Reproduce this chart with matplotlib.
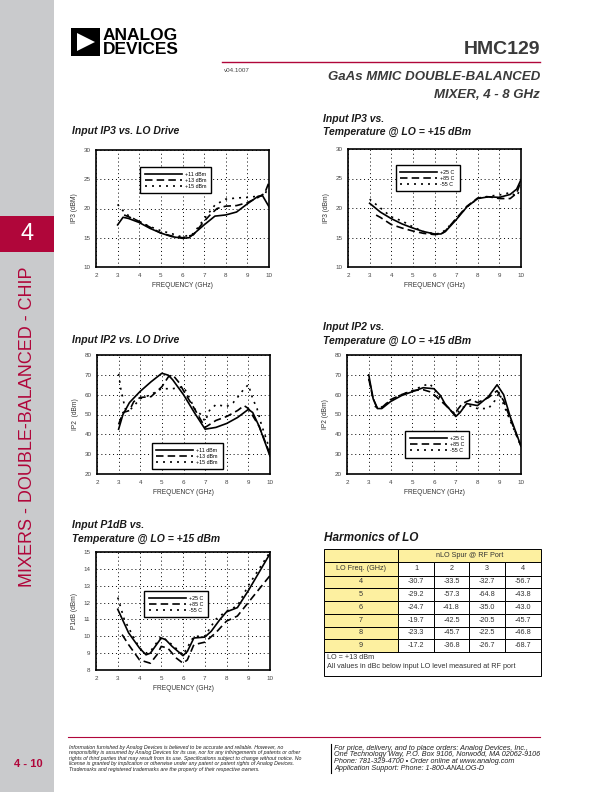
import matplotlib
matplotlib.use("Agg")
import matplotlib.pyplot as plt
from matplotlib.patches import Rectangle, Polygon
from matplotlib.lines import Line2D

plt.rcParams["font.family"] = ["Liberation Sans", "DejaVu Sans"]

W, H = 612, 792
RED = "#B0063A"
GRAY_BAND = "#C9CACC"
YELLOW = "#FDF0A0"

# ---- Input IP3 vs. LO Drive ----
ip3_lo_labels = ["+11 dBm", "+13 dBm", "+15 dBm"]
ip3_lo_x = [
    [3, 3.25, 3.5, 4, 4.5, 5, 5.5, 6, 6.3, 6.5, 7, 7.5, 8, 8.5, 9, 9.5, 9.7, 10],
    [3.3, 3.5, 4, 4.5, 5, 5.5, 6, 6.5, 7, 7.3, 7.6, 8, 8.5, 9, 9.5, 9.8, 10],
    [3, 3.3, 3.5, 4, 4.5, 5, 5.5, 6, 6.5, 7, 7.5, 8, 8.5, 9, 9.5, 9.8, 10],
]
ip3_lo_y = [
    [17.2, 18.5, 18.3, 17.6, 16.6, 15.8, 15.2, 14.9, 15.0, 15.6, 17.2, 18.7, 18.9, 19.4, 20.8, 22.1, 22.2, 20.3],
    [18.9, 18.6, 17.8, 16.8, 15.8, 15.3, 15.0, 15.5, 17.8, 19.0, 20.0, 20.4, 20.5, 21.0, 21.9, 22.6, 24.5],
    [20.7, 19.4, 18.8, 17.7, 16.9, 16.2, 15.7, 15.1, 15.7, 18.2, 20.6, 21.6, 21.8, 21.9, 22.1, 22.3, 24.0],
]

# ---- Input IP3 vs. Temperature ----
temp_labels = ["+25 C", "+85 C", "-55 C"]
ip3_t_x = [
    [3, 3.5, 4, 4.5, 5, 5.5, 6, 6.3, 6.5, 7, 7.5, 8, 8.5, 9, 9.5, 9.8, 10],
    [3.3, 3.5, 4, 4.5, 5, 5.5, 6, 6.3, 6.5, 7, 7.5, 8, 8.5, 9, 9.5, 9.8, 10],
    [3, 3.5, 4, 4.5, 5, 5.5, 6, 6.3, 6.5, 7, 7.5, 8, 8.5, 9, 9.5, 9.8, 10],
]
ip3_t_y = [
    [20.8, 19.3, 18.2, 17.3, 16.6, 16.0, 15.6, 15.6, 16.0, 18.0, 20.2, 21.6, 21.9, 21.8, 22.3, 23.2, 24.8],
    [18.8, 18.4, 17.2, 16.6, 16.1, 15.7, 15.5, 15.6, 16.1, 18.2, 20.3, 21.7, 21.9, 21.6, 21.6, 22.5, 24.6],
    [21.5, 20.0, 18.5, 17.8, 16.8, 16.0, 15.6, 15.7, 16.3, 18.1, 20.2, 21.6, 22.0, 22.2, 22.6, 22.0, 23.5],
]

# ---- Input IP2 vs. LO Drive ----
ip2_lo_x = [
    [3, 3.2, 3.5, 4, 4.5, 5, 5.3, 5.5, 6, 6.5, 7, 7.5, 8, 8.5, 9, 9.2, 9.5, 10],
    [3, 3.2, 3.5, 3.7, 4, 4.5, 5, 5.3, 5.5, 5.8, 6, 6.5, 7, 7.5, 8, 8.5, 8.8, 9, 9.5, 10],
    [3, 3.1, 3.2, 3.3, 3.5, 3.8, 4, 4.5, 4.8, 5, 5.5, 6, 6.3, 6.5, 6.8, 7, 7.2, 7.5, 8, 8.3, 8.6, 8.8, 9, 9.2, 9.4, 9.6, 10],
]
ip2_lo_y = [
    [42.6, 50, 56, 61.7, 66.5, 70.8, 69.8, 67.5, 60, 51, 42.6, 43.5, 45.5, 48.5, 52.6, 51, 44, 29],
    [45, 51, 52, 56.5, 58.6, 59, 64, 69, 70, 66, 62, 53, 43.5, 47, 49, 52, 54.5, 53, 44, 30],
    [70.5, 63, 58, 53, 52, 55.5, 58, 60, 62, 63, 63, 64, 58, 53, 50, 46.5, 52, 55, 54, 56, 60, 63, 65, 58, 53, 45, 32],
]

# ---- Input IP2 vs. Temperature ----
ip2_t_x = [
    [3, 3.2, 3.4, 3.6, 4, 4.5, 5, 5.5, 6, 6.3, 6.5, 7, 7.2, 7.5, 8, 8.5, 8.9, 9.2, 9.5, 10],
    [3, 3.2, 3.4, 3.6, 4, 4.5, 5, 5.5, 5.8, 6, 6.5, 7, 7.05, 7.3, 7.7, 8, 8.5, 8.9, 9.2, 9.5, 10],
    [3, 3.3, 3.5, 4, 4.5, 5, 5.5, 5.8, 6, 6.3, 6.6, 7, 7.3, 7.6, 8, 8.5, 8.8, 9, 9.2, 9.5, 10],
]
ip2_t_y = [
    [70, 58, 53, 53, 56.5, 59.5, 61.5, 63.5, 63, 59.5, 55.5, 49, 51, 55.5, 54.5, 59, 65, 60, 49, 34],
    [68, 58, 53, 53.5, 57.5, 60, 62, 62.5, 61.5, 60, 55, 49.5, 52, 55.5, 57.5, 56, 58.5, 62, 57, 48, 34],
    [68, 54, 53, 57, 60, 62, 64.5, 65.5, 63, 58, 54, 50, 53.5, 54.5, 53, 53, 57, 61, 55, 47, 34],
]

# ---- Input P1dB vs. Temperature ----
p1_t_x = [
    [3, 3.5, 4, 4.3, 4.5, 5, 5.2, 5.5, 6, 6.2, 6.5, 7, 7.3, 7.7, 8, 8.5, 9, 9.5, 10],
    [3.2, 3.5, 4, 4.5, 4.8, 5, 5.3, 5.7, 6, 6.2, 6.5, 7, 7.5, 8, 8.5, 9, 9.5, 10],
    [3, 3.3, 3.5, 4, 4.3, 4.5, 5, 5.5, 6, 6.5, 7, 7.5, 8, 8.5, 9, 9.5, 10],
]
p1_t_y = [
    [11.6, 10.2, 9.3, 8.9, 9.0, 9.9, 9.8, 9.4, 8.85, 9.1, 9.9, 9.95, 10.3, 11.0, 11.45, 11.7, 12.7, 13.8, 14.9],
    [10.1, 9.5, 8.6, 8.4, 8.9, 9.4, 9.3, 8.7, 8.4, 8.6, 9.5, 9.65, 10.2, 10.9, 11.2, 12.0, 12.8, 13.6],
    [12.3, 11.0, 10.5, 9.3, 9.0, 9.1, 10.0, 9.5, 8.9, 10.0, 10.0, 11.0, 11.5, 11.8, 13.0, 14.0, 15.0],
]

# ---- Harmonics of LO table ----
lo_freqs = ["4", "5", "6", "7", "8", "9"]
spur_orders = ["1", "2", "3", "4"]
spur_values = [
    [-30.7, -33.5, -32.7, -56.7],
    [-29.2, -57.3, -64.8, -43.8],
    [-24.7, -41.8, -35.0, -43.0],
    [-19.7, -42.5, -20.5, -45.7],
    [-23.3, -45.7, -22.5, -46.8],
    [-17.2, -36.8, -26.7, -68.7],
]

STYLES = ["-", (0, (4.5, 2.5)), (0, (1.2, 3))]

fig = plt.figure(figsize=(W / 100, H / 100), dpi=100)


def px_text(x, y, s, **kw):
    fig.text(x / W, 1 - y / H, s, **kw)


def px_axes(x0, y0, x1, y1):
    return fig.add_axes([x0 / W, 1 - y1 / H, (x1 - x0) / W, (y1 - y0) / H])


def chart(rect, xs, ys, labels, yticks, ylabel, leg_anchor):
    ax = px_axes(*rect)
    for x, y, lab, ls in zip(xs, ys, labels, STYLES):
        ax.plot(x, y, color="black", lw=1.2, ls=ls, label=lab)
    ax.set_xlim(2, 10)
    ax.set_ylim(yticks[0], yticks[-1])
    ax.set_xticks(range(2, 11))
    ax.set_yticks(yticks)
    ax.grid(True, color="black", ls=(0, (1, 3)), lw=0.7)
    for sp in ax.spines.values():
        sp.set_linewidth(1.2)
    ax.tick_params(length=0, labelsize=4.5, pad=4, colors="#444444")
    ax.set_xlabel("FREQUENCY (GHz)", fontsize=4.8, color="#333333", labelpad=3)
    ax.set_ylabel(ylabel, fontsize=4.8, color="#333333", labelpad=4)
    leg = ax.legend(loc="upper left", bbox_to_anchor=leg_anchor, fontsize=3.8,
                    handlelength=7, handletextpad=0.6, labelspacing=0.15,
                    borderpad=0.9, fancybox=False, framealpha=1, edgecolor="black")
    leg.get_frame().set_linewidth(1.0)
    return ax


chart((96, 150, 269, 267), ip3_lo_x, ip3_lo_y, ip3_lo_labels, [10, 15, 20, 25, 30],
      "IP3 (dBM)", (0.24, 0.875))
chart((348, 149, 521, 267), ip3_t_x, ip3_t_y, temp_labels, [10, 15, 20, 25, 30],
      "IP3 (dBm)", (0.26, 0.885))
chart((97, 355, 270, 474), ip2_lo_x, ip2_lo_y, ip3_lo_labels, [20, 30, 40, 50, 60, 70, 80],
      "IP2  (dBm)", (0.30, 0.28))
chart((347, 355, 521, 474), ip2_t_x, ip2_t_y, temp_labels, [20, 30, 40, 50, 60, 70, 80],
      "IP2 (dBm)", (0.32, 0.38))
chart((96, 552, 270, 670), p1_t_x, p1_t_y, temp_labels, list(range(8, 16)),
      "P1dB (dBm)", (0.26, 0.69))

# chart titles
tkw = dict(fontsize=7.5, fontweight="bold", fontstyle="italic", color="#1a1a1a", va="center")
px_text(72, 131, "Input IP3 vs. LO Drive", **tkw)
px_text(323, 119, "Input IP3 vs.", **tkw)
px_text(323, 132, "Temperature @ LO = +15 dBm", **tkw)
px_text(72, 340, "Input IP2 vs. LO Drive", **tkw)
px_text(323, 327, "Input IP2 vs.", **tkw)
px_text(323, 341, "Temperature @ LO = +15 dBm", **tkw)
px_text(72, 525, "Input P1dB vs.", **tkw)
px_text(72, 539, "Temperature @ LO = +15 dBm", **tkw)
px_text(324, 538, "Harmonics of LO", fontsize=8.5, fontweight="bold",
        fontstyle="italic", color="#1a1a1a", va="center")

# ---- table ----
col_edges = [324, 398, 434, 469, 505, 541]
row_edges = [549, 562, 576, 588, 601, 614, 627, 639, 652, 676]
tab = px_axes(col_edges[0], row_edges[0], col_edges[-1], row_edges[-1])
tab.set_xlim(col_edges[0], col_edges[-1])
tab.set_ylim(row_edges[-1], row_edges[0])
tab.axis("off")
cell_kw = dict(fontsize=5.2, color="#333333", ha="center", va="center")


def cell(c0, c1, r0, r1, color, text=None):
    x0, x1 = col_edges[c0], col_edges[c1]
    y0, y1 = row_edges[r0], row_edges[r1]
    tab.add_patch(Rectangle((x0, y0), x1 - x0, y1 - y0, facecolor=color,
                            edgecolor="black", lw=0.7, clip_on=False))
    if text is not None:
        tab.text((x0 + x1) / 2, (y0 + y1) / 2, text, **cell_kw)


cell(0, 1, 0, 1, YELLOW)
cell(1, 5, 0, 1, YELLOW, "nLO Spur @ RF Port")
cell(0, 1, 1, 2, YELLOW, "LO Freq. (GHz)")
for j, s in enumerate(spur_orders):
    cell(j + 1, j + 2, 1, 2, "white", s)
for i, f in enumerate(lo_freqs):
    cell(0, 1, i + 2, i + 3, YELLOW, f)
    for j, v in enumerate(spur_values[i]):
        cell(j + 1, j + 2, i + 2, i + 3, "white", f"{v:.1f}")
cell(0, 5, 8, 9, "white")
tab.text(col_edges[0] + 3, row_edges[8] + 6, "LO = +13 dBm", fontsize=5.2,
         color="#333333", va="center")
tab.text(col_edges[0] + 3, row_edges[8] + 15,
         "All values in dBc below input LO level measured at RF port",
         fontsize=5.2, color="#333333", va="center")

# ---- page decoration: side band ----
fig.patches.append(Rectangle((0, 0), 54 / W, 1, transform=fig.transFigure,
                             facecolor=GRAY_BAND, edgecolor="none", zorder=-5))
fig.patches.append(Rectangle((0, 1 - 252 / H), 54 / W, 36 / H, transform=fig.transFigure,
                             facecolor=RED, edgecolor="none", zorder=-4))
px_text(27, 234, "4", fontsize=17, color="white", ha="center", va="center")
px_text(28, 427, "MIXERS - DOUBLE-BALANCED - CHIP", fontsize=13, color=RED,
        rotation=90, ha="center", va="center")
px_text(28, 764, "4 - 10", fontsize=8, fontweight="bold", color=RED,
        ha="center", va="center")

# ---- header ----
fig.patches.append(Rectangle((71 / W, 1 - 56 / H), 29 / W, 28 / H, transform=fig.transFigure,
                             facecolor="black", edgecolor="none"))
fig.patches.append(Polygon([(77 / W, 1 - 33 / H), (77 / W, 1 - 51 / H), (95 / W, 1 - 42 / H)],
                           closed=True, transform=fig.transFigure,
                           facecolor="white", edgecolor="none"))
px_text(103, 35, "ANALOG", fontsize=12.5, fontweight="bold", color="black",
        va="center", family=["Liberation Sans Narrow", "Liberation Sans"])
px_text(103, 50, "DEVICES", fontsize=12.5, fontweight="bold", color="black",
        va="center", family=["Liberation Sans Narrow", "Liberation Sans"])

px_text(540, 50, "HMC129", fontsize=14, fontweight="bold", color="#3a3a3a",
        ha="right", va="center")
fig.add_artist(Line2D([222 / W, 540 / W], [1 - 62 / H, 1 - 62 / H], color=RED, lw=1.0))
px_text(224, 70, "v04.1007", fontsize=4.5, color="#444444", va="center")
px_text(540, 77, "GaAs MMIC DOUBLE-BALANCED", fontsize=9.5, fontweight="bold",
        fontstyle="italic", color="#3a3a3a", ha="right", va="center")
px_text(540, 95, "MIXER, 4 - 8 GHz", fontsize=9.5, fontweight="bold",
        fontstyle="italic", color="#3a3a3a", ha="right", va="center")

# ---- footer ----
fig.add_artist(Line2D([68 / W, 540 / W], [1 - 737 / H, 1 - 737 / H], color=RED, lw=0.8))
disclaimer = [
    "Information furnished by Analog Devices is believed to be accurate and reliable. However, no",
    "responsibility is assumed by Analog Devices for its use, nor for any infringements of patents or other",
    "rights of third parties that may result from its use. Specifications subject to change without notice. No",
    "license is granted by implication or otherwise under any patent or patent rights of Analog Devices.",
    "Trademarks and registered trademarks are the property of their respective owners.",
]
for i, line in enumerate(disclaimer):
    px_text(69, 747 + i * 5.6, line, fontsize=3.8, fontstyle="italic", color="#222222",
            va="center")
fig.add_artist(Line2D([331 / W, 331 / W], [1 - 744 / H, 1 - 773 / H], color="black", lw=0.8))
contact = [
    "For price, delivery, and to place orders: Analog Devices, Inc.,",
    "One Technology Way, P.O. Box 9106, Norwood, MA 02062-9106",
    "Phone: 781-329-4700 \u2022 Order online at www.analog.com",
    "Application Support: Phone: 1-800-ANALOG-D",
]
for i, line in enumerate(contact):
    px_text(334, 748 + i * 6.8, line, fontsize=5.2, fontstyle="italic", color="#222222",
            va="center")

fig.savefig("out.png", dpi=100)
